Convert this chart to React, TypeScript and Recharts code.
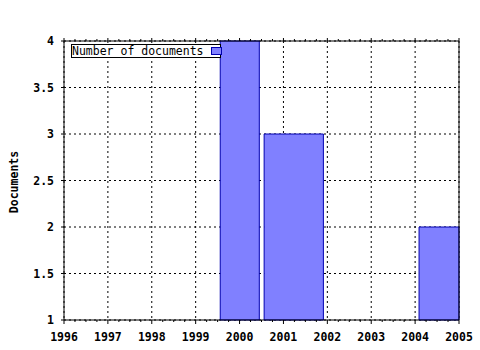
import React from 'react';
import {
  ComposedChart,
  XAxis,
  YAxis,
  CartesianGrid,
  ReferenceArea,
  Legend,
  Label,
} from 'recharts';

// Tick labels / categories
const yearTicks = [1996, 1997, 1998, 1999, 2000, 2001, 2002, 2003, 2004, 2005];
const yTicks = [1, 1.5, 2, 2.5, 3, 3.5, 4];
const minorOffsets = [0, 0.25, 0.5, 0.75];
const axisTicks = yearTicks.flatMap((y, i) =>
  i < yearTicks.length - 1 ? minorOffsets.map((o) => y + o) : [y]
);

// Series: bars (start year, end year, number of documents)
const seriesName = 'Number of documents';
const barStart = [1999.56, 2000.56, 2004.09];
const barEnd = [2000.45, 2001.91, 2005];
const barValues = [4, 3, 2];

const data = barValues.flatMap((v, i) => [
  { year: barStart[i], value: v },
  { year: barEnd[i], value: v },
]);

const FONT = '"DejaVu Sans Mono", monospace';
const BAR_FILL = '#8080ff';
const BAR_STROKE = '#0000b0';

const BottomTick = (props: any) => {
  const { x, y, payload } = props;
  const v = payload.value;
  const major = Math.abs(v - Math.round(v)) < 1e-6;
  return (
    <g>
      <line x1={x} x2={x} y1={y} y2={y + (major ? 4 : 2)} stroke="#000" />
      {major && (
        <text
          x={x}
          y={y + 20.5}
          textAnchor="middle"
          fontFamily={FONT}
          fontWeight="bold"
          fontSize={11.5}
          fill="#000"
        >
          {Math.round(v)}
        </text>
      )}
    </g>
  );
};

const TopTick = (props: any) => {
  const { x, y, payload } = props;
  const v = payload.value;
  const major = Math.abs(v - Math.round(v)) < 1e-6;
  return <line x1={x} x2={x} y1={y} y2={y - (major ? 3 : 2)} stroke="#000" />;
};

const LegendBox = () => (
  <div
    style={{
      position: 'relative',
      boxSizing: 'border-box',
      width: 150,
      height: 14,
      border: '1px solid #000',
      background: '#fff',
      fontFamily: FONT,
      fontSize: 11.5,
      lineHeight: '12px',
      paddingLeft: 0,
      color: '#000',
      whiteSpace: 'nowrap',
    }}
  >
    <span>{seriesName}</span>
    <div
      style={{
        position: 'absolute',
        left: 139,
        top: 2,
        width: 9,
        height: 6,
        background: BAR_FILL,
        border: `1px solid ${BAR_STROKE}`,
      }}
    />
  </div>
);

export default function App() {
  return (
    <div style={{ position: 'absolute', left: 0, top: 0, width: 480, height: 350, background: '#fff' }}>
      <ComposedChart
        width={480}
        height={350}
        data={data}
        margin={{ top: 37, right: 20, bottom: 0, left: 0 }}
      >
        <XAxis
          xAxisId="grid"
          dataKey="year"
          type="number"
          domain={[1996, 2005]}
          ticks={yearTicks}
          hide
        />
        <XAxis
          xAxisId="bottom"
          dataKey="year"
          type="number"
          domain={[1996, 2005]}
          ticks={axisTicks}
          interval={0}
          height={30}
          tickSize={0}
          tickMargin={0}
          tickLine={false}
          axisLine={{ stroke: '#000' }}
          tick={<BottomTick />}
        />
        <XAxis
          xAxisId="top"
          orientation="top"
          dataKey="year"
          type="number"
          domain={[1996, 2005]}
          ticks={axisTicks}
          interval={0}
          height={4}
          tickSize={0}
          tickMargin={0}
          tickLine={false}
          axisLine={{ stroke: '#000' }}
          tick={<TopTick />}
        />
        <YAxis
          yAxisId="left"
          dataKey="value"
          type="number"
          domain={[1, 4]}
          allowDataOverflow
          ticks={yTicks}
          interval={0}
          width={64}
          tickSize={3}
          tickMargin={7}
          axisLine={{ stroke: '#000' }}
          tickLine={{ stroke: '#000' }}
          tick={{ fill: '#000', fontFamily: FONT, fontWeight: 'bold', fontSize: 11.5 }}
        >
          <Label
            content={() => (
              <text
                x={14}
                y={182}
                transform="rotate(-90 14 182)"
                textAnchor="middle"
                dominantBaseline="central"
                fontFamily={FONT}
                fontWeight="bold"
                fontSize={11.5}
                fill="#000"
              >
                Documents
              </text>
            )}
          />
        </YAxis>
        <YAxis
          yAxisId="right"
          orientation="right"
          dataKey="value"
          type="number"
          domain={[1, 4]}
          allowDataOverflow
          width={1}
          tick={false}
          tickLine={false}
          axisLine={{ stroke: '#000' }}
        />
        <CartesianGrid
          xAxisId="grid"
          yAxisId="left"
          stroke="#000"
          strokeDasharray="2 3"
        />
        {barValues.map((v, i) => (
          <ReferenceArea
            key={i}
            xAxisId="bottom"
            yAxisId="left"
            x1={barStart[i]}
            x2={barEnd[i]}
            y1={1}
            y2={v}
            fill={BAR_FILL}
            fillOpacity={1}
            stroke={BAR_STROKE}
            strokeWidth={1}
            ifOverflow="visible"
          />
        ))}
        <Legend
          layout="horizontal"
          verticalAlign="middle"
          align="center"
          content={() => <LegendBox />}
          wrapperStyle={{ left: 71, top: 44, width: 'auto', height: 'auto' }}
        />
      </ComposedChart>
    </div>
  );
}
